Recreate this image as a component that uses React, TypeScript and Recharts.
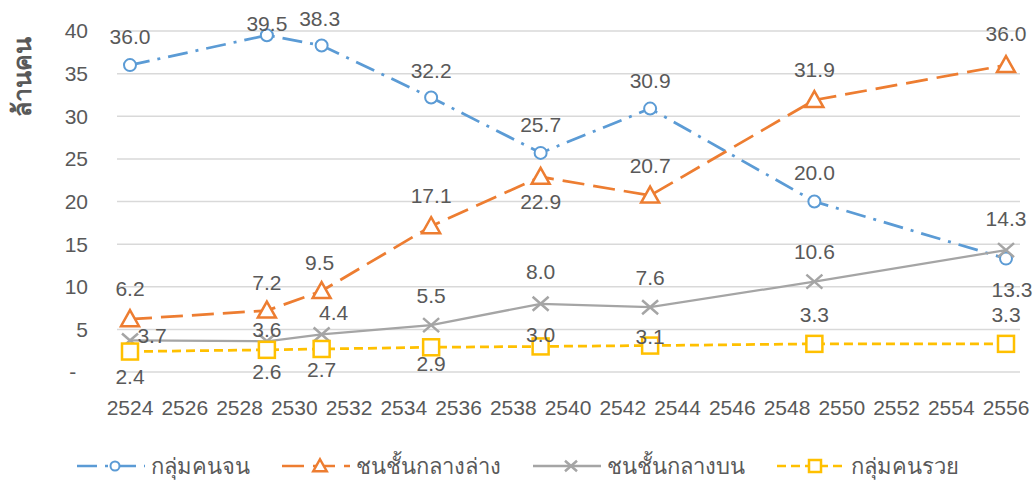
import { LineChart, Line, XAxis, YAxis, CartesianGrid, Legend, LabelList } from 'recharts';

const years = [2524, 2529, 2531, 2535, 2539, 2543, 2549, 2556];
const poor = [36.0, 39.5, 38.3, 32.2, 25.7, 30.9, 20.0, 13.3];
const lowerMiddle = [6.2, 7.2, 9.5, 17.1, 22.9, 20.7, 31.9, 36.0];
const upperMiddle = [3.7, 3.6, 4.4, 5.5, 8.0, 7.6, 10.6, 14.3];
const rich = [2.4, 2.6, 2.7, 2.9, 3.0, 3.1, 3.3, 3.3];

const yearTicks = [2524, 2526, 2528, 2530, 2532, 2534, 2536, 2538, 2540, 2542, 2544, 2546, 2548, 2550, 2552, 2554, 2556];
const valueTicks = [0, 5, 10, 15, 20, 25, 30, 35, 40];

const NAMES = ['กลุ่มคนจน', 'ชนชั้นกลางล่าง', 'ชนชั้นกลางบน', 'กลุ่มคนรวย'];
const COLORS = ['#5b9bd5', '#ed7d31', '#a5a5a5', '#ffc000'];
const DASHES = ['20 8 3 8', '22 9', undefined, '9 5'];

// label placement [dx, dy] from each point (Excel had them nudged by hand)
const poorLabelPos = [[0, -29], [0, -12], [-2, -27], [0, -27], [0, -28], [0, -28], [0, -29], [6, 31]];
const lowerLabelPos = [[0, -31], [0, -28], [-2, -29], [0, -31], [0, 25], [0, -30], [0, -31], [0, -32]];
const upperLabelPos = [[22, -5], [0, -12], [12, -22], [0, -30], [0, -32], [0, -30], [0, -30], [0, -32]];
const richLabelPos = [[0, 25], [0, 22], [0, 21], [0, 16], [0, -12], [0, -9], [0, -29], [0, -29]];

const FONT = '"Liberation Sans", Arial, sans-serif';
const TEXT = '#595959';

const data = years.map((year, i) => ({
  year,
  poor: poor[i],
  lowerMiddle: lowerMiddle[i],
  upperMiddle: upperMiddle[i],
  rich: rich[i],
}));

const Marker = ({ kind, cx, cy, color, s = 1 }: { kind: number; cx: number; cy: number; color: string; s?: number }) => {
  if (kind === 0) return <circle cx={cx} cy={cy} r={6 * s} fill="#fff" stroke={color} strokeWidth={2} />;
  if (kind === 1)
    return (
      <path
        d={`M${cx},${cy - 9 * s} L${cx + 9 * s},${cy + 7 * s} L${cx - 9 * s},${cy + 7 * s} Z`}
        fill="#fff"
        stroke={color}
        strokeWidth={2.5}
      />
    );
  if (kind === 2)
    return (
      <path
        d={`M${cx - 8 * s},${cy - 7 * s} L${cx + 8 * s},${cy + 7 * s} M${cx - 8 * s},${cy + 7 * s} L${cx + 8 * s},${cy - 7 * s}`}
        stroke={color}
        strokeWidth={2.5}
        fill="none"
      />
    );
  return <rect x={cx - 8 * s} y={cy - 8 * s} width={16 * s} height={16 * s} fill="#fff" stroke={color} strokeWidth={2.5} />;
};

const makeDot = (kind: number) => (p: any) =>
  <Marker key={`d${kind}-${p.index}`} kind={kind} cx={p.cx} cy={p.cy} color={COLORS[kind]} />;

const makeLabel = (pos: number[][]) => (p: any) => {
  const [dx, dy] = pos[p.index] ?? [0, -28];
  return (
    <text
      key={`l${p.index}`}
      x={Number(p.x) + dx}
      y={Number(p.y) + dy}
      textAnchor="middle"
      dominantBaseline="central"
      fontSize={21}
      fontFamily={FONT}
      fill={TEXT}
    >
      {Number(p.value).toFixed(1)}
    </text>
  );
};

const LegendContent = () => (
  <div style={{ display: 'flex', justifyContent: 'center', alignItems: 'center', gap: 32, height: 32 }}>
    {NAMES.map((name, i) => (
      <div key={name} style={{ display: 'flex', alignItems: 'center', gap: 6 }}>
        <svg width={68} height={24}>
          <line
            x1={0}
            y1={12}
            x2={68}
            y2={12}
            stroke={COLORS[i]}
            strokeWidth={2.5}
            strokeDasharray={DASHES[i]}
          />
          <Marker kind={i} cx={38} cy={12} color={COLORS[i]} s={0.75} />
        </svg>
        <span style={{ fontSize: 22, color: TEXT, fontFamily: FONT }}>{name}</span>
      </div>
    ))}
  </div>
);

const keys = ['poor', 'lowerMiddle', 'upperMiddle', 'rich'];
const labelPos = [poorLabelPos, lowerLabelPos, upperLabelPos, richLabelPos];

const App = () => {
  return (
    <div style={{ position: 'absolute', left: 0, top: 0, width: 1035, height: 484, background: '#fff' }}>
      <LineChart width={1035} height={484} data={data} margin={{ top: 31, right: 15, bottom: 30, left: 10 }}>
        <CartesianGrid vertical={false} stroke="#d9d9d9" strokeWidth={1.5} />
        <XAxis
          dataKey="year"
          type="number"
          domain={[2524, 2556]}
          ticks={yearTicks}
          padding={{ left: 13, right: 14 }}
          axisLine={false}
          tickLine={false}
          tickSize={0}
          tickMargin={28}
          height={50}
          tick={{ fontSize: 21, fill: TEXT, fontFamily: FONT }}
          interval={0}
        />
        <YAxis
          domain={[0, 40]}
          ticks={valueTicks}
          axisLine={false}
          tickLine={false}
          tickSize={0}
          tickMargin={29}
          width={107}
          tick={{ fontSize: 21, fill: TEXT, fontFamily: FONT }}
          tickFormatter={(v: number) => (v === 0 ? '-\u00a0\u00a0' : String(v))}
        />
        <Legend verticalAlign="bottom" height={32} wrapperStyle={{ left: 0, width: 1035, bottom: 2 }} content={<LegendContent />} />
        {keys.map((k, i) => (
          <Line
            key={k}
            type="linear"
            dataKey={k}
            name={NAMES[i]}
            stroke={COLORS[i]}
            strokeWidth={i === 2 ? 2.25 : 2.75}
            strokeDasharray={DASHES[i]}
            dot={makeDot(i)}
            activeDot={false}
            isAnimationActive={false}
          >
            <LabelList dataKey={k} content={makeLabel(labelPos[i])} />
          </Line>
        ))}
      </LineChart>
      <div
        style={{
          position: 'absolute',
          left: 22,
          top: 77,
          transform: 'translate(-50%, -50%) rotate(-90deg)',
          fontSize: 25,
          fontWeight: 'bold',
          color: TEXT,
          fontFamily: FONT,
          whiteSpace: 'nowrap',
        }}
      >
        ล้านคน
      </div>
    </div>
  );
};

export default App;
